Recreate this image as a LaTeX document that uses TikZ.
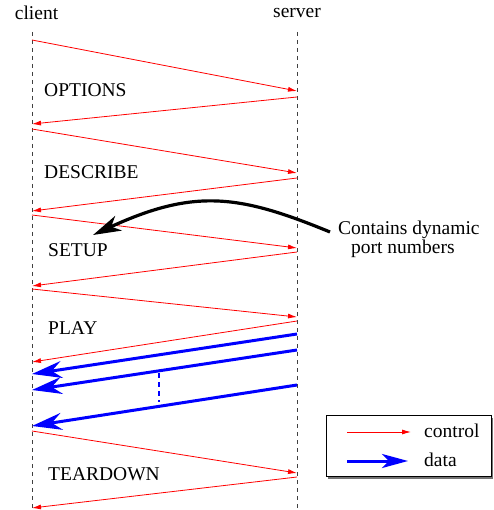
\documentclass[tikz,border=0pt]{standalone}
\usepackage{fontspec}
\setmainfont{Liberation Serif}
\usetikzlibrary{arrows.meta}
\begin{document}
\begin{tikzpicture}[x=1pt,y=-1pt,
  lifeline/.style={draw=black!75, line width=0.8pt, dash pattern=on 4pt off 4pt},
  ctrl/.style={draw=red, line width=0.8pt, -{Latex[length=9pt,width=5pt]}},
  dataflow/.style={draw=blue, line width=3pt, -{Stealth[length=30pt,width=17pt,inset=10pt]}},
  txt/.style={font=\fontsize{19.5}{20}\selectfont, inner sep=0pt},
  msg/.style={txt, anchor=west}]
\useasboundingbox (0,0) rectangle (493,510);

% participants
\node[txt] (client) at (36.5,13) {client};
\node[txt] (server) at (297,13) {server};
\coordinate (ctop) at (32,32);  \coordinate (cbot) at (32,510);
\coordinate (stop) at (297,32); \coordinate (sbot) at (297,510);
\draw[lifeline] (ctop) -- (cbot);
\draw[lifeline] (stop) -- (sbot);

% message end points on the client lifeline
\foreach \n/\y in {1/40,2/124,3/129,4/211,5/215,6/286,7/289,8/362,9/374,10/390,11/426,12/431,13/508}
  \coordinate (c\n) at (32,\y);
% message end points on the server lifeline
\foreach \n/\y in {1/91,2/97,3/173,4/178,5/248,6/252,7/317,8/321,9/334,10/350,11/385,12/473,13/477}
  \coordinate (s\n) at (297,\y);

% control messages
\draw[ctrl] (c1) -- (s1);
\draw[ctrl] (s2) -- (c2);
\draw[ctrl] (c3) -- (s3);
\draw[ctrl] (s4) -- (c4);
\draw[ctrl] (c5) -- (s5);
\draw[ctrl] (s6) -- (c6);
\draw[ctrl] (c7) -- (s7);
\draw[ctrl] (s8) -- (c8);
\draw[ctrl] (c12) -- (s12);
\draw[ctrl] (s13) -- (c13);

% media stream
\draw[dataflow] (s9) -- (c9);
\draw[dataflow] (s10) -- (c10);
\draw[dataflow] (s11) -- (c11);
\coordinate (gapA) at (159,373);
\coordinate (gapB) at (159,402);
\draw[blue, line width=1.2pt, dash pattern=on 5pt off 4pt] (gapA) -- (gapB);

% request names
\node[msg] (options)  at (44,90)  {OPTIONS};
\node[msg] (describe) at (44,172) {DESCRIBE};
\node[msg] (setup)    at (48,250) {SETUP};
\node[msg] (play)     at (48,328) {PLAY};
\node[msg] (teardown) at (48,474) {TEARDOWN};

% annotation
\node[txt, anchor=base west] (note1) at (338,234) {Contains dynamic};
\node[txt, anchor=base west] (note2) at (351,253) {port numbers};
\coordinate (noteStart) at (330,232);
\coordinate (noteTip) at (93,235);
\draw[line width=3.2pt, -{Stealth[length=28pt,width=16pt,inset=8pt]}]
  (noteStart) .. controls (240,195) and (195,188) .. (noteTip);

% legend
\fill[black!55] (328,418) rectangle (493,478.5);
\draw[fill=white, line width=0.8pt] (326,415) rectangle (491,476);
\coordinate (legA) at (347,432); \coordinate (legB) at (411,432);
\coordinate (legC) at (347,461); \coordinate (legD) at (408,461);
\draw[ctrl] (legA) -- (legB);
\draw[dataflow, -{Stealth[length=26pt,width=14pt,inset=7pt]}] (legC) -- (legD);
\node[txt, anchor=base west] (lctrl) at (424,437) {control};
\node[txt, anchor=base west] (ldata) at (424,466) {data};
\end{tikzpicture}
\end{document}
